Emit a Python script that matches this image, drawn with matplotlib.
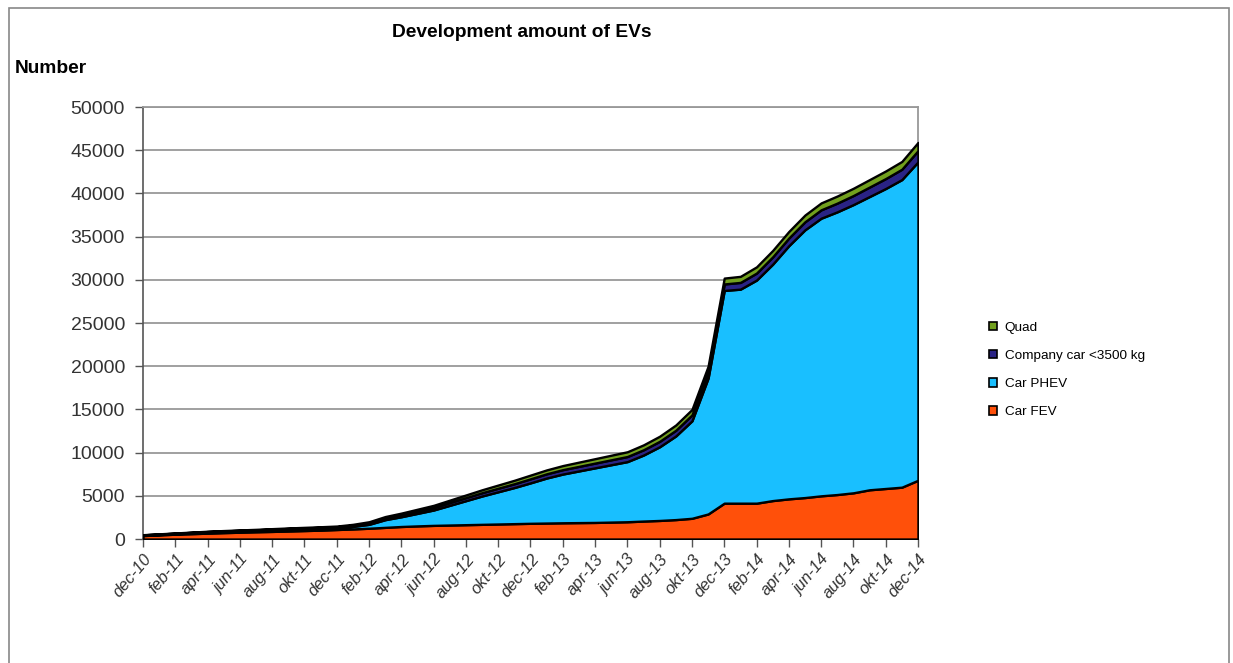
import numpy as np
import matplotlib
matplotlib.use('Agg')
import matplotlib.pyplot as plt
from matplotlib.patches import Rectangle

plt.rcParams['font.family'] = ['Liberation Sans', 'DejaVu Sans']

# monthly data dec-10 .. dec-14
months = ['dec', 'jan', 'feb', 'mar', 'apr', 'mai', 'jun', 'jul', 'aug', 'sep', 'okt', 'nov']
month_labels = ['dec-10'] + [f'{months[(i % 12)]}-{11 + (i - 1) // 12}' for i in range(1, 49)]

car_fev = [400, 480, 560, 620, 680, 740, 790, 840, 880, 930, 980, 1030, 1100,
           1170, 1250, 1350, 1450, 1520, 1580, 1620, 1660, 1700, 1740, 1780, 1820,
           1850, 1880, 1900, 1920, 1960, 2000, 2080, 2150, 2250, 2400, 2900, 4150,
           4150, 4150, 4450, 4650, 4800, 5000, 5150, 5350, 5700, 5850, 6000, 6800]
car_phev = [30, 40, 50, 80, 110, 120, 130, 140, 170, 190, 200, 205, 200,
            290, 450, 890, 1130, 1450, 1780, 2280, 2780, 3280, 3730, 4180, 4680,
            5210, 5640, 5980, 6320, 6640, 6960, 7640, 8530, 9680, 11280, 15730, 24620,
            24770, 25820, 27360, 29300, 30990, 32130, 32720, 33360, 33940, 34720, 35600, 36850]
company_car = [50, 55, 60, 65, 70, 75, 80, 85, 90, 95, 100, 110, 120,
               140, 170, 200, 230, 260, 290, 320, 350, 380, 410, 440, 470,
               490, 510, 530, 550, 570, 590, 610, 630, 660, 690, 720, 750,
               780, 810, 850, 890, 930, 970, 1010, 1050, 1100, 1150, 1200, 1300]
quad = [20, 25, 30, 35, 40, 45, 50, 55, 60, 65, 70, 75, 80,
        100, 130, 160, 190, 220, 250, 280, 310, 340, 370, 400, 430,
        450, 470, 490, 510, 530, 550, 570, 590, 610, 630, 650, 680,
        700, 720, 740, 760, 780, 800, 820, 840, 860, 880, 900, 950]

series_names = ['Car FEV', 'Car PHEV', 'Company car <3500 kg', 'Quad']
colors = ['#FF500A', '#19BFFF', '#2A2385', '#72A01E']

fig = plt.figure(figsize=(12.33, 6.63), dpi=100)
ax = fig.add_axes([0.116, 0.187, 0.6285, 0.6516])

x = np.arange(len(car_fev))
polys = ax.stackplot(x, car_fev, car_phev, company_car, quad, colors=colors,
                     edgecolor='black', linewidth=1.7, labels=series_names, zorder=3)

ax.set_xlim(0, len(x) - 1)
ax.set_ylim(0, 50000)
ax.set_yticks(np.arange(0, 50001, 5000))
ax.set_yticklabels([str(v) for v in range(0, 50001, 5000)], fontsize=14, color='#333333')
ax.set_xticks(x[::2])
ax.set_xticklabels(month_labels[::2], rotation=50, ha='right', rotation_mode='anchor',
                   fontsize=12, color='#333333', style='italic')
ax.yaxis.grid(True, color='#999999', linewidth=1.3, zorder=0)
ax.set_axisbelow(True)
ax.tick_params(axis='both', direction='out', length=6, color='#555555', width=1)
ax.tick_params(axis='y', pad=7)
ax.tick_params(axis='x', pad=3)
for side in ['left', 'bottom']:
    ax.spines[side].set_color('#555555')
    ax.spines[side].set_linewidth(1.2)
for side in ['top', 'right']:
    ax.spines[side].set_color('#999999')
    ax.spines[side].set_linewidth(1.3)

fig.text(0.4235, 0.951, 'Development amount of EVs', ha='center', va='center',
         fontsize=13.8, fontweight='bold')
fig.text(0.012, 0.897, 'Number', ha='left', va='center', fontsize=13.8, fontweight='bold')

handles = polys[::-1]
leg = fig.legend(handles, series_names[::-1], loc='center left',
                 bbox_to_anchor=(0.792, 0.442), frameon=False, fontsize=9.7,
                 handlelength=0.6, handleheight=0.6, handletextpad=0.6, labelspacing=1.2)
for h in leg.legend_handles:
    h.set_linewidth(1.2)

# outer frame
fig.patches.append(Rectangle((9 / 1233, -0.05), 1220 / 1233, 1.05 - 8 / 663,
                             transform=fig.transFigure, fill=False,
                             edgecolor='#888888', linewidth=1.2))

fig.savefig('out.png', dpi=100)
